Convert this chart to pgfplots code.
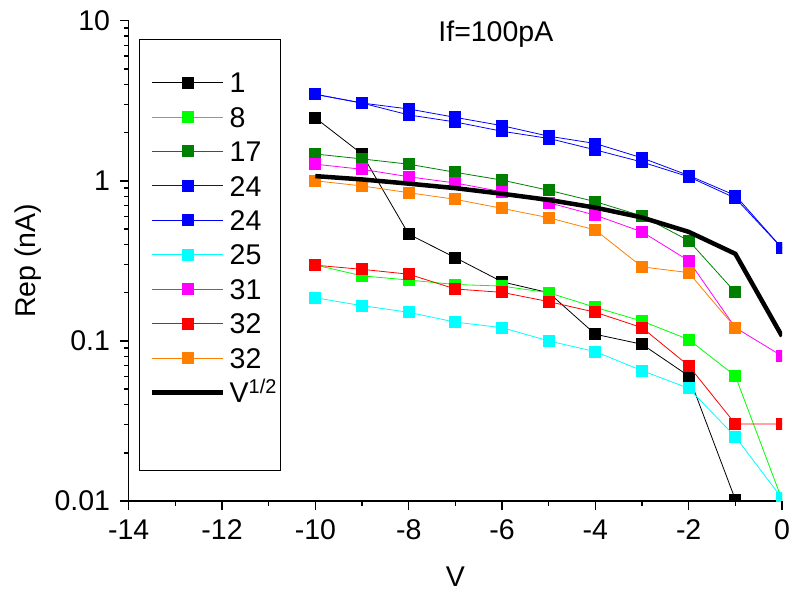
\documentclass[border=0pt]{standalone}
\usepackage{fontspec}
\setmainfont{Liberation Sans}
\usepackage{pgfplots}
\usepackage{pgfplotstable}
\pgfplotsset{compat=1.18}
\definecolor{limec}{RGB}{0,255,0}
\definecolor{dgreen}{RGB}{0,128,0}
\definecolor{bluec}{RGB}{0,0,255}
\definecolor{cyanc}{RGB}{0,255,255}
\definecolor{magc}{RGB}{255,0,255}
\definecolor{redc}{RGB}{255,0,0}
\definecolor{orangec}{RGB}{255,128,0}

\pgfplotstableread{
x     a      b      c     d     e     f      g      h      i      s
-10 2.47   0.298  1.47  3.47  3.47  0.186  1.27   0.297  1.00   1.07
-9  1.47   0.255  1.37  3.06  3.06  0.166  1.18   0.280  0.929  1.02
-8  0.464  0.240  1.27  2.81  2.58  0.151  1.06   0.261  0.843  0.96
-7  0.331  0.225  1.13  2.49  2.33  0.131  0.969  0.211  0.766  0.90
-6  0.234  0.220  1.01  2.21  2.04  0.121  0.855  0.201  0.673  0.83
-5  0.200  0.200  0.873 1.90  1.84  0.100  0.73   0.176  0.588  0.76
-4  0.110  0.162  0.741 1.71  1.56  0.0857 0.61   0.151  0.493  0.68
-3  0.0953 0.133  0.603 1.39  1.31  0.0652 0.48   0.121  0.290  0.59
-2  0.0604 0.102  0.423 1.08  1.06  0.0506 0.317  0.070  0.267  0.48
-1  0.0102 0.0604 0.201 0.81  0.78  0.0252 0.121  0.0303 0.121  0.35
0   nan    0.0102 nan   0.38  0.38  0.0104 0.0805 0.0303 nan    0.107
}\data

\begin{document}
\fontsize{28.5bp}{34bp}\selectfont
\begin{tikzpicture}
\begin{axis}[
  scale only axis, width=653.3bp, height=480.3bp,
  ymode=log, xmin=-14, xmax=0, ymin=0.01, ymax=10,
  axis x line*=bottom, axis y line*=left,
  axis line style={line width=1.5bp},
  xtick={-14,-12,...,0}, minor xtick={-13,-11,...,-1},
  ytick={0.01,0.1,1,10}, yticklabels={0.01,0.1,1,10},
  xtick pos=bottom, ytick pos=left,
  tick align=outside, tickwidth=9bp, subtickwidth=5bp,
  every tick/.append style={line width=1.5bp, black},
  /pgf/number format/assume math mode=true,
  clip marker paths=true,
  unbounded coords=jump,
  title={If=100pA},
  title style={at={(axis description cs:0.562,0.9446)}, anchor=base, inner sep=0pt},
  xlabel={V},
  xlabel style={at={(axis description cs:0.5,-0.179)}, anchor=base, inner sep=0pt},
  ylabel={Rep (nA)},
  ylabel style={at={(axis description cs:-0.1434,0.5)}, anchor=base, rotate=0, inner sep=0pt},
  every axis plot/.append style={line width=0.8bp, mark=square*, mark size=5.5bp, mark options={solid, line width=0.4bp}},
  legend image code/.code={\draw[mark repeat=2,mark phase=2] plot coordinates {(0bp,0bp) (35.5bp,0bp) (71bp,0bp)};},
  legend cell align=left,
  legend style={draw=none, fill=none, at={(axis description cs:0.0326,0.8932)}, anchor=north west,
    inner sep=0pt, row sep=13.95bp, column sep=4bp,
    nodes={inner sep=0pt, text height=20.5bp, text depth=0bp}},
]
\addplot[color=black, mark options={fill=black}] table[x=x,y=a]{\data};
\addlegendentry{1}
\addplot[color=limec, mark options={fill=limec}] table[x=x,y=b]{\data};
\addlegendentry{8}
\addplot[color=dgreen, mark options={fill=dgreen}] table[x=x,y=c]{\data};
\addlegendentry{17}
\addplot[color=bluec, mark options={fill=bluec}] table[x=x,y=d]{\data};
\addlegendentry{24}
\addplot[color=bluec, mark options={fill=bluec}] table[x=x,y=e]{\data};
\addlegendentry{24}
\addplot[color=cyanc, mark options={fill=cyanc}] table[x=x,y=f]{\data};
\addlegendentry{25}
\addplot[color=magc, mark options={fill=magc}] table[x=x,y=g]{\data};
\addlegendentry{31}
\addplot[color=redc, mark options={fill=redc}] table[x=x,y=h]{\data};
\addlegendentry{32}
\addplot[color=orangec, mark options={fill=orangec}] table[x=x,y=i]{\data};
\addlegendentry{32}
\addplot[color=black, line width=4.5bp, mark=none] table[x=x,y=s]{\data};
\addlegendentry{V\textsuperscript{1/2}}
\draw[line width=1bp] (axis description cs:0.0158,0.960) rectangle (axis description cs:0.2331,0.0645);
\end{axis}
% axis tick marks (decoration)
\foreach \i in {0,...,7}
  \draw[line width=1.5bp] ([xshift=\i*93.33bp]current axis.south west) -- ++(0,-9bp);
\foreach \i in {0,...,6}
  \draw[line width=1.5bp] ([xshift=46.66bp+\i*93.33bp]current axis.south west) -- ++(0,-5bp);
\foreach \i in {0,...,3}
  \draw[line width=1.5bp] ([yshift=\i*160.1bp]current axis.south west) -- ++(-9bp,0);
\foreach \d in {0,1,2}
  \foreach \m in {2,...,9}
    \draw[line width=1.5bp] ([yshift={(\d+log10(\m))*160.1bp}]current axis.south west) -- ++(-5bp,0);
\pgfresetboundingbox
\path[use as bounding box] (current axis.south west) ++(-128.7bp,-92bp) rectangle ++(795bp,593bp);
\end{tikzpicture}
\end{document}
